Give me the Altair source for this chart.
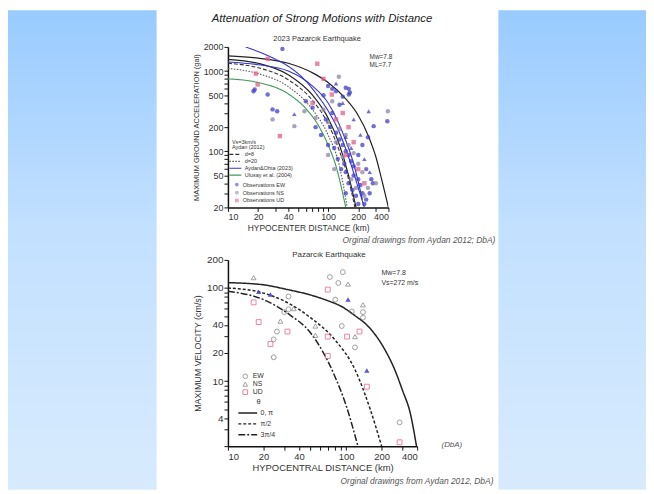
import altair as alt
import pandas as pd

FONT = "Liberation Sans"

# ---------------- top chart: acceleration ----------------
TOP_X_TICKS = [10, 20, 30, 40, 50, 60, 70, 80, 90, 100, 200, 300, 400]
TOP_X_LABELS = [10, 20, 40, 100, 200, 400]
TOP_Y_TICKS = [20, 30, 40, 50, 60, 70, 80, 90, 100, 200, 300, 400, 500, 600, 700, 800, 900, 1000, 2000]
TOP_Y_LABELS = [20, 50, 100, 200, 500, 1000, 2000]

# black solid attenuation curves (no legend)
outer_r = [10, 20, 40, 70, 100, 150, 200, 250, 300, 350, 400]
outer_a = [1550, 1450, 1250, 950, 720, 450, 280, 160, 85, 40, 20]
inner_r = [10, 20, 40, 70, 100, 130, 160, 190]
inner_a = [1400, 1250, 900, 500, 260, 120, 50, 20]
blue2_r = [10, 20, 40, 70, 100, 140, 180, 220]
blue2_a = [1300, 1200, 1000, 650, 400, 170, 70, 25]

# legend curves
d8_r = [10, 20, 40, 70, 100, 130, 160, 185]
d8_a = [1250, 1100, 780, 430, 220, 100, 45, 20]
d20_r = [10, 20, 40, 70, 100, 130, 155]
d20_a = [1080, 930, 640, 330, 160, 65, 20]
ao_r = [15, 20, 30, 40, 60, 80, 100, 130, 160, 200, 230]
ao_a = [2000, 1750, 1400, 1150, 750, 480, 320, 170, 85, 35, 20]
ul_r = [10, 20, 40, 60, 80, 100, 120, 150]
ul_a = [800, 720, 520, 340, 210, 120, 65, 20]
CURVE_NAMES = ["d=8", "d=20", "Aydan&Ohta (2023)", "Ulusay et al. (2004)"]
CURVE_COLORS = ["#333333", "#555555", "#3434d0", "#3f9a5a"]
CURVE_DASH = [[4, 2], [1.5, 1.5], [1, 0], [1, 0]]

# observations
ew_r = [35, 18.5, 18, 24.9, 27.9, 31, 60, 70, 90, 100, 110, 120, 140, 150, 161, 161, 165, 130, 110, 95,
        105, 120, 130, 115, 140, 150, 160, 170, 125, 135, 150, 180, 200, 210, 160, 175, 190, 220, 240, 260,
        230, 200, 150, 285, 390, 250, 220, 200, 240, 270, 280, 180, 145, 100, 85, 75]
ew_a = [1890, 590, 560, 510, 333, 316, 420, 350, 500, 650, 600, 560, 480, 620, 600, 510, 540, 380, 300, 250,
        200, 170, 140, 110, 120, 100, 90, 75, 80, 60, 55, 50, 45, 38, 40, 33, 28, 30, 25, 30,
        22, 22, 30, 206, 237, 150, 120, 90, 60, 45, 40, 65, 70, 120, 160, 200]
ns_r = [27.9, 46, 58, 128, 395, 110, 90, 100, 130, 150, 120, 160, 180, 140, 200, 220, 170, 190, 250, 230,
        300, 115, 100, 75]
ns_a = [250, 206, 316, 850, 316, 420, 330, 230, 190, 160, 130, 120, 95, 85, 70, 55, 45, 35, 35, 28,
        40, 60, 90, 260]
ud_r = [78, 19, 19.8, 33, 109, 90, 140, 70, 160, 180, 200, 230, 120, 150, 25]
ud_a = [1235, 930, 680, 155, 510, 800, 300, 400, 200, 130, 60, 40, 250, 90, 1420]
tri_r = [46, 254, 120, 140, 180, 210, 230, 260, 150, 170]
tri_a = [290, 316, 700, 400, 250, 160, 80, 55, 150, 110]
OBS_NAMES = ["Observations EW", "Observations NS", "Observations UD"]

# ---------------- bottom chart: velocity ----------------
BOT_X_TICKS = TOP_X_TICKS
BOT_X_LABELS = TOP_X_LABELS
BOT_Y_TICKS = [2, 3, 4, 5, 6, 7, 8, 9, 10, 20, 30, 40, 50, 60, 70, 80, 90, 100, 200]
BOT_Y_LABELS = [4, 10, 20, 40, 100, 200]

v0_r = [10, 20, 32, 50, 70, 92, 120, 150, 212, 260, 300, 350, 395]
v0_v = [114, 108, 96, 84, 73, 63, 50, 40, 22, 13, 8, 4.5, 2]
v90_r = [10, 20, 33, 50, 80, 120, 160, 200]
v90_v = [100, 88, 68, 48, 28, 13, 5, 2]
v135_r = [10, 20, 33, 50, 81, 100, 126]
v135_v = [92, 75, 52, 33, 11, 5.5, 2]
THETA_NAMES = ["0, π", "π/2", "3π/4"]

bew_r = [32.6, 32.6, 26, 24.4, 24.4, 73, 94, 86, 81, 112, 92, 119, 284, 30, 139, 139]
bew_v = [81, 59, 34, 28, 18, 131, 148, 113, 75, 56, 39, 23, 3.6, 55, 55, 48]
bns_r = [16.5, 27.8, 139, 119, 55, 55, 104, 36]
bns_v = [129, 44, 66, 30, 39, 31, 110, 60]
bud_r = [16.5, 18.2, 31.9, 22.9, 70, 102, 70, 150, 284, 70, 130]
bud_v = [70, 43, 34, 25, 96, 30, 18.6, 8.7, 2.2, 30, 34]
btri_r = [18.2, 22.9, 104, 150]
btri_v = [91, 85, 75, 13]
BOBS_NAMES = ["EW", "NS", "UD"]

# ---------------- helpers ----------------
W1, H1 = 162, 162
W2, H2 = 191, 188


def curves_df(pairs):
    rows = []
    for name, rs, vs in pairs:
        for r, v in zip(rs, vs):
            rows.append({"curve": name, "r": r, "v": v})
    return pd.DataFrame(rows)


def obs_df(pairs):
    rows = []
    for name, rs, vs in pairs:
        for r, v in zip(rs, vs):
            rows.append({"obs": name, "r": r, "v": v})
    return pd.DataFrame(rows)


def axis(values, labels, title, fs, tfs, toff=None):
    kw = dict(values=values,
              labelExpr=f"indexof({labels}, datum.value) >= 0 ? '' + datum.value : ''",
              title=title, grid=False, labelOverlap=False, labelFontSize=fs, labelFont=FONT,
              labelColor="#333", titleFont=FONT, titleFontSize=tfs, titleFontWeight="normal",
              titleColor="#333", domainColor="#111", domainWidth=1.5, tickColor="#111",
              tickSize=4, labelPadding=1)
    if toff is not None:
        kw["titlePadding"] = toff
    return alt.Axis(**kw)


def txt(text, x, y, size, align="center", italic=False, color="#333"):
    return alt.Chart(pd.DataFrame({"k": [0]})).mark_text(
        text=text, fontSize=size, font=FONT, align=align, baseline="middle",
        fontStyle="italic" if italic else "normal", color=color
    ).encode(x=alt.value(x), y=alt.value(y))


# ---------------- slide side panels (relative to top plot origin) ----------------
grad = alt.LinearGradient(gradient="linear", x1=0, x2=0, y1=0, y2=1,
                          stops=[alt.GradientStop(color="#99cbff", offset=0),
                                 alt.GradientStop(color="#c2e0ff", offset=0.45),
                                 alt.GradientStop(color="#d8ebfd", offset=1)])
panel_df = pd.DataFrame({"k": [0]})
left_panel = alt.Chart(panel_df).mark_rect(color=grad).encode(
    x=alt.value(-222), x2=alt.value(-72), y=alt.value(-37), y2=alt.value(447))
right_panel = alt.Chart(panel_df).mark_rect(color=grad).encode(
    x=alt.value(273), x2=alt.value(422), y=alt.value(-37), y2=alt.value(447))

# ---------------- top chart ----------------
xt = alt.X("r:Q", scale=alt.Scale(type="log", domain=[10, 400], nice=False),
           axis=axis(TOP_X_TICKS, TOP_X_LABELS, "HYPOCENTER DISTANCE (km)", 9, 8.5, 2))
yt = alt.Y("v:Q", scale=alt.Scale(type="log", domain=[20, 2000], nice=False),
           axis=axis(TOP_Y_TICKS, TOP_Y_LABELS, "MAXIMUM GROUND ACCELERATION (gal)", 9, 7.5, 3))

black_df = curves_df([("outer", outer_r, outer_a), ("inner", inner_r, inner_a)])
black = alt.Chart(black_df).mark_line(color="#222", strokeWidth=1.2, interpolate="monotone", clip=True).encode(
    x=xt, y=yt, detail="curve:N")
blue2 = alt.Chart(curves_df([("b2", blue2_r, blue2_a)])).mark_line(
    color="#3434d0", strokeWidth=1.1, interpolate="monotone", clip=True).encode(x=xt, y=yt)

leg_df = curves_df([(CURVE_NAMES[0], d8_r, d8_a), (CURVE_NAMES[1], d20_r, d20_a),
                    (CURVE_NAMES[2], ao_r, ao_a), (CURVE_NAMES[3], ul_r, ul_a)])
line_legend = alt.Legend(orient="none", legendX=4, legendY=94, title=["Vs=3km/s", "Aydan (2012)"],
                         titleFontSize=5.5, titleFontWeight="normal", titleFont=FONT, titleColor="#333",
                         labelFontSize=5.5, labelFont=FONT, labelColor="#333", symbolSize=30,
                         symbolStrokeWidth=1.2, rowPadding=0, padding=0, titlePadding=0, labelOffset=6,
                         titleLineHeight=5.5, symbolType="M-2.2,0H2.2")
legcurves = alt.Chart(leg_df).mark_line(strokeWidth=1.1, interpolate="monotone", clip=True).encode(
    x=xt, y=yt,
    color=alt.Color("curve:N", scale=alt.Scale(domain=CURVE_NAMES, range=CURVE_COLORS), legend=line_legend),
    strokeDash=alt.StrokeDash("curve:N", scale=alt.Scale(domain=CURVE_NAMES, range=CURVE_DASH), legend=line_legend),
)

odf = obs_df([(OBS_NAMES[0], ew_r, ew_a), (OBS_NAMES[1], ns_r, ns_a), (OBS_NAMES[2], ud_r, ud_a)])
pt_legend = alt.Legend(orient="none", legendX=6, legendY=136, title=None, labelFontSize=5.5, labelFont=FONT,
                       labelColor="#333", symbolSize=14, rowPadding=-3, padding=0, labelOffset=3)
obs = alt.Chart(odf).mark_point(filled=True, size=20, opacity=0.75, strokeWidth=0).encode(
    x=xt, y=yt,
    fill=alt.Fill("obs:N", scale=alt.Scale(domain=OBS_NAMES, range=["#3d3dc8", "#8a86a4", "#e0608a"]), legend=pt_legend),
    shape=alt.Shape("obs:N", scale=alt.Scale(domain=OBS_NAMES, range=["circle", "circle", "square"]), legend=pt_legend),
)
tris = alt.Chart(obs_df([("tri", tri_r, tri_a)])).mark_point(
    shape="triangle-up", filled=True, size=20, opacity=0.75, color="#3d3dc8").encode(x=xt, y=yt)

top = alt.layer(
    left_panel, right_panel,
    black, blue2, legcurves, obs, tris,
    txt("Attenuation of Strong Motions with Distance", 95, -28, 11.5, italic=True, color="#222"),
    txt("2023 Pazarcık Earthquake", 90, -8, 7.5),
    txt("Mw=7.8", 143, 10, 6.5, align="left"),
    txt("ML=7.7", 143, 18, 6.5, align="left"),
    txt("Orginal drawings from Aydan 2012; DbA)", 270, 195, 8.5, align="right", italic=True, color="#555"),
).properties(width=W1, height=H1)

# ---------------- bottom chart ----------------
xb = alt.X("r:Q", scale=alt.Scale(type="log", domain=[10, 400], nice=False),
           axis=axis(BOT_X_TICKS, BOT_X_LABELS, "HYPOCENTRAL DISTANCE (km)", 9.5, 9.5, 2))
yb = alt.Y("v:Q", scale=alt.Scale(type="log", domain=[2, 200], nice=False),
           axis=axis(BOT_Y_TICKS, BOT_Y_LABELS, "MAXIMUM VELOCITY (cm/s)", 10, 9, 4))

vdf = curves_df([(THETA_NAMES[0], v0_r, v0_v), (THETA_NAMES[1], v90_r, v90_v), (THETA_NAMES[2], v135_r, v135_v)])
th_legend = alt.Legend(orient="none", legendX=14, legendY=139, title="θ", titleFontSize=7.5,
                       titleFontWeight="normal", titleFont=FONT, titleColor="#333", titleAnchor="middle",
                       labelFontSize=7, labelFont=FONT, labelColor="#333", symbolSize=100,
                       symbolStrokeWidth=1.4, rowPadding=2, padding=0, titlePadding=2, labelOffset=7,
                       symbolType="M-1.9,0H1.9")
vlines = alt.Chart(vdf).mark_line(strokeWidth=1.5, interpolate="monotone", clip=True).encode(
    x=xb, y=yb,
    color=alt.Color("curve:N", scale=alt.Scale(domain=THETA_NAMES, range=["#222", "#222", "#222"]), legend=th_legend),
    strokeDash=alt.StrokeDash("curve:N", scale=alt.Scale(domain=THETA_NAMES, range=[[1, 0], [3, 2], [7, 2, 2, 2]]),
                              legend=th_legend),
)
bodf = obs_df([(BOBS_NAMES[0], bew_r, bew_v), (BOBS_NAMES[1], bns_r, bns_v), (BOBS_NAMES[2], bud_r, bud_v)])
bpt_legend = alt.Legend(orient="none", legendX=14, legendY=114, title=None, labelFontSize=7, labelFont=FONT,
                        labelColor="#333", symbolSize=22, rowPadding=-1, padding=0, labelOffset=4,
                        symbolStrokeWidth=1)
bobs = alt.Chart(bodf).mark_point(filled=False, size=24, strokeWidth=1).encode(
    x=xb, y=yb,
    stroke=alt.Stroke("obs:N", scale=alt.Scale(domain=BOBS_NAMES, range=["#777777", "#777777", "#e8507a"]), legend=bpt_legend),
    shape=alt.Shape("obs:N", scale=alt.Scale(domain=BOBS_NAMES, range=["circle", "triangle-up", "square"]), legend=bpt_legend),
)
btris = alt.Chart(obs_df([("tri", btri_r, btri_v)])).mark_point(
    shape="triangle-up", filled=True, size=28, color="#3a3ad0", opacity=0.85).encode(x=xb, y=yb)

bottom = alt.layer(
    vlines, bobs, btris,
    txt("Pazarcık Earthquake", 102, -5, 8),
    txt("Mw=7.8", 155, 13, 7, align="left"),
    txt("Vs=272 m/s", 155, 23, 7, align="left"),
    txt("(DbA)", 226, 187, 8, italic=True, color="#555"),
    txt("Orginal drawings from Aydan 2012, DbA)", 268, 223, 8.5, align="right", italic=True, color="#555"),
).properties(width=W2, height=H2)

chart = alt.vconcat(top, bottom, spacing=53, bounds="flush").resolve_scale(
    color="independent", strokeDash="independent", fill="independent", shape="independent",
    stroke="independent"
).resolve_legend(
    color="independent", strokeDash="independent", fill="independent", shape="independent",
    stroke="independent"
).properties(
    padding=0, background="white"
).configure_view(stroke=None).configure_legend(labelLimit=300)

chart.save("out.html", embed_options={"renderer": "svg", "actions": False})
